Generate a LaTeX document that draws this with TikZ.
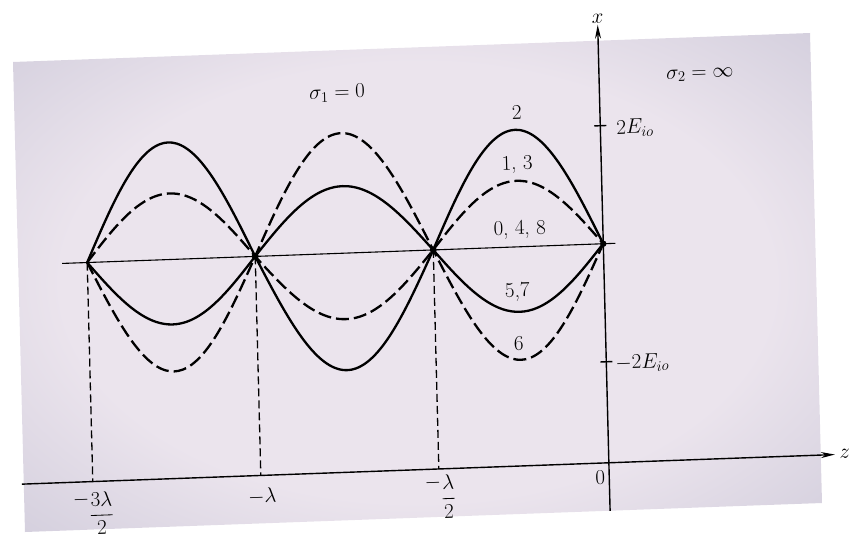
\RequirePackage{fix-cm}
\documentclass[tikz,border=0pt]{standalone}
\usepackage{amsmath}
\usetikzlibrary{arrows.meta}
\definecolor{boxlight}{RGB}{235,228,237}
\definecolor{boxmid}{RGB}{204,200,216}
\definecolor{boxdark}{RGB}{174,176,195}
\pgfdeclareradialshading{boxshade}{\pgfpoint{0bp}{0bp}}{color(0bp)=(boxlight); color(22bp)=(boxlight); color(40bp)=(boxmid); color(60bp)=(boxdark); color(71bp)=(boxdark)}
\tikzset{
  wave/.style={line width=2.3pt, line join=round},
  wavedash/.style={line width=2.3pt, dash pattern=on 13pt off 5pt},
  drop/.style={line width=1.3pt, dash pattern=on 8pt off 4pt},
  axisline/.style={line width=1.4pt},
  baseline0/.style={line width=1.1pt},
  lab/.style={font=\fontsize{21}{25}\selectfont, inner sep=1pt},
  tiparrow/.style={-{Stealth[length=14pt,width=6pt]}},
}
\newcommand{\mynegfrac}[2]{\raisebox{0.75em}{$-$}\dfrac{#1}{#2}}
\begin{document}
\begin{tikzpicture}[x=1pt,y=-1pt]
\useasboundingbox (0,0) rectangle (857,539);
\begin{scope}[cm={1,0.03639,-0.02553,1,(13pt,-62pt)}, transform shape]
  % shaded panel
  \shade[shading=boxshade] (0,0) rectangle (797,470);

  % key points
  \coordinate (n0) at (69,203);
  \coordinate (n1) at (237,203);
  \coordinate (n2) at (415,203);
  \coordinate (n3) at (585,203);
  \coordinate (wL) at (44,203);
  \coordinate (wR) at (597,203);
  \coordinate (zL) at (-2,422);
  \coordinate (zR) at (811,422);
  \coordinate (xB) at (585,470);
  \coordinate (xT) at (585,-16);
  \coordinate (tpL) at (579,85);
  \coordinate (tpR) at (591,85);
  \coordinate (tmL) at (579,321);
  \coordinate (tmR) at (591,321);

  % axes
  \draw[baseline0] (wL) -- (wR);
  \draw[axisline, tiparrow] (zL) -- (zR) node[lab, right=3pt] (zlab) {$z$};
  \draw[axisline, tiparrow] (xB) -- (xT) node[lab, above=0pt] (xlab) {$x$};
  \draw[axisline] (tpL) -- (tpR);
  \draw[axisline] (tmL) -- (tmR);

  % drops to z axis
  \draw[drop] (n0) -- (n0 |- zL);
  \draw[drop] (n1) -- (n1 |- zL);
  \draw[drop] (n2) -- (n2 |- zL);

  % curve 2 (solid, large)
  \draw[wave] plot[domain=0:1,samples=41,smooth] ({69+168*\x},{203-117*sin(180*\x)})
    -- plot[domain=0:1,samples=41,smooth] ({237+178*\x},{203+117*sin(180*\x)})
    -- plot[domain=0:1,samples=41,smooth] ({415+170*\x},{203-117*sin(180*\x)});
  % solid, small (opposite sign)
  \draw[wave] plot[domain=0:1,samples=41,smooth] ({69+168*\x},{203+65*sin(180*\x)})
    -- plot[domain=0:1,samples=41,smooth] ({237+178*\x},{203-67*sin(180*\x)})
    -- plot[domain=0:1,samples=41,smooth] ({415+170*\x},{203+65*sin(180*\x)});
  % dashed, small
  \draw[wavedash] plot[domain=0:1,samples=41,smooth] ({69+168*\x},{203-66*sin(180*\x)})
    -- plot[domain=0:1,samples=41,smooth] ({237+178*\x},{203+66*sin(180*\x)})
    -- plot[domain=0:1,samples=41,smooth] ({415+170*\x},{203-66*sin(180*\x)});
  % dashed, large
  \draw[wavedash] plot[domain=0:1,samples=41,smooth] ({69+168*\x},{203+112*sin(180*\x)})
    -- plot[domain=0:1,samples=41,smooth] ({237+178*\x},{203-120*sin(180*\x)})
    -- plot[domain=0:1,samples=41,smooth] ({415+170*\x},{203+113*sin(180*\x)});

  % node dots
  \fill (n1) circle (3.5);
  \fill (n2) circle (3.5);
  \fill (n3) circle (3.2);

  % curve labels
  \node[lab] (l2) at (502,69) {2};
  \node[lab] (l13) at (501,121) {1, 3};
  \node[lab] (l048) at (502,186) {0, 4, 8};
  \node[lab] (l57) at (498,248) {5,7};
  \node[lab] (l6) at (498,300) {6};

  % region labels
  \node[lab] (s1) at (323,43) {$\sigma_1 = 0$};
  \node[lab] (s2) at (686,38) {$\sigma_2 = \infty$};

  % amplitude labels
  \node[lab, anchor=base west] (ep) at (600,94) {$2E_{io}$};
  \node[lab, anchor=base west] (em) at (593,329) {$-2E_{io}$};

  % z-axis labels
  \node[lab] (zl0) at (69,454) {$\mynegfrac{3\lambda}{2}$};
  \node[lab] (zl1) at (238,443) {$-\lambda$};
  \node[lab] (zl2) at (416,450) {$\mynegfrac{\lambda}{2}$};
  \node[lab] (zl3) at (576,437) {0};
\end{scope}
\end{tikzpicture}
\end{document}
